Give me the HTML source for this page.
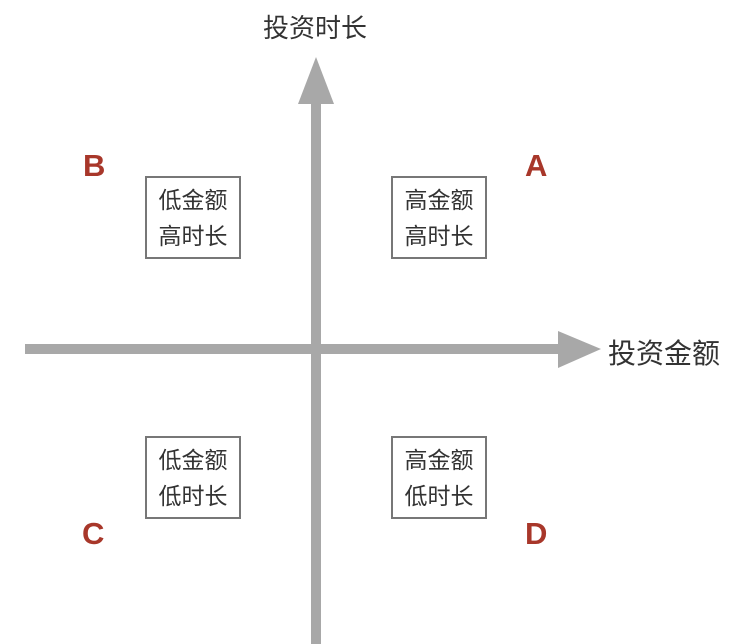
<!DOCTYPE html>
<html><head><meta charset="utf-8"><style>
body{margin:0;width:738px;height:644px;background:#fff;position:relative;overflow:hidden;font-family:"Liberation Sans","Noto Sans CJK SC",sans-serif}
.t{position:absolute;color:#333;white-space:nowrap}
.box{position:absolute;border:2px solid #777;box-sizing:border-box;width:96px;height:83px;color:#333;font-size:23px;line-height:36px;text-align:center;padding-top:4px}
.l{position:absolute;color:#a8372a;font-weight:bold;font-size:31px}
</style></head><body>
<svg width="738" height="644" style="position:absolute;left:0;top:0">
<rect x="311" y="100" width="10" height="544" fill="#a8a8a8"/>
<polygon points="316,57 298,104 334,104" fill="#a8a8a8"/>
<rect x="25" y="344" width="540" height="10" fill="#a8a8a8"/>
<polygon points="601,349 558,331 558,368" fill="#a8a8a8"/>
</svg>
<div class="t" style="left:263px;top:8px;font-size:26px">投资时长</div>
<div class="t" style="left:608px;top:332px;font-size:28px">投资金额</div>
<div class="box" style="left:145px;top:176px">低金额<br>高时长</div>
<div class="box" style="left:391px;top:176px">高金额<br>高时长</div>
<div class="box" style="left:145px;top:436px">低金额<br>低时长</div>
<div class="box" style="left:391px;top:436px">高金额<br>低时长</div>
<div class="l" style="left:83px;top:148px">B</div>
<div class="l" style="left:525px;top:148px">A</div>
<div class="l" style="left:82px;top:516px">C</div>
<div class="l" style="left:525px;top:516px">D</div>
</body></html>
